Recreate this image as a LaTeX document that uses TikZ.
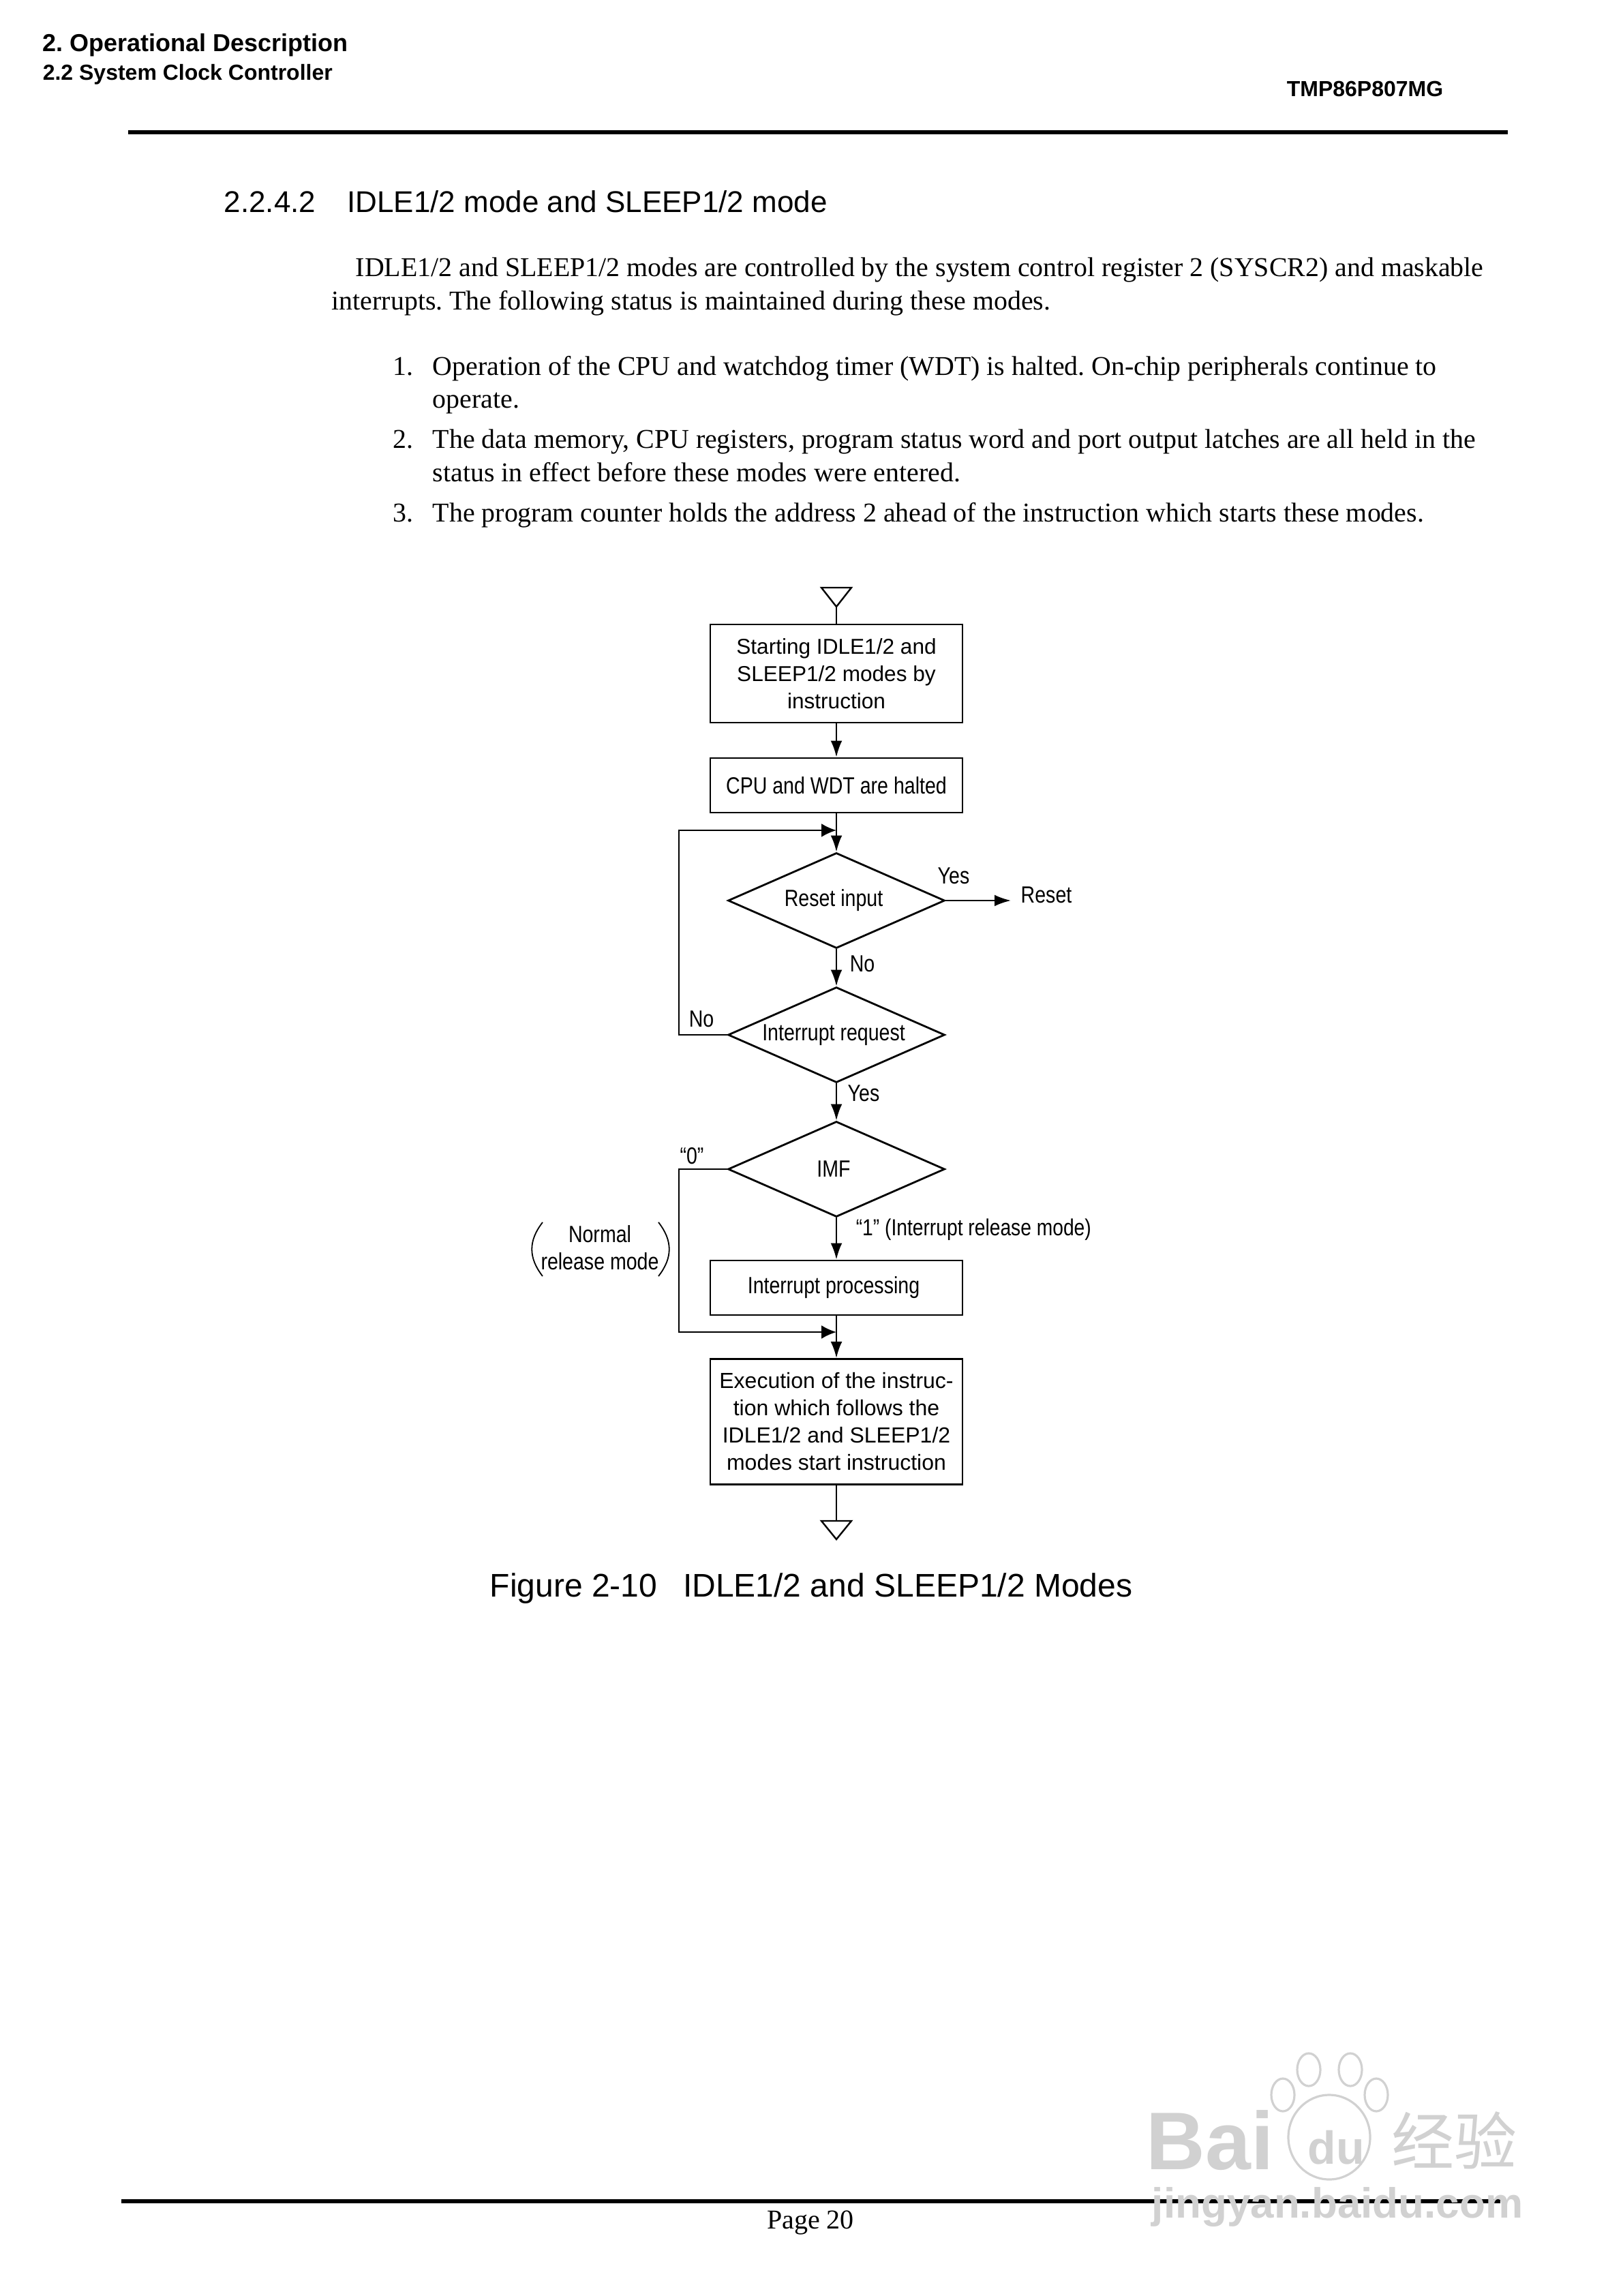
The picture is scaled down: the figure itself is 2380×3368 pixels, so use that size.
\documentclass[tikz,border=0pt]{standalone}
\usepackage{fontspec}
\setmainfont{Liberation Serif}
\setsansfont{Liberation Sans}
\newfontfamily\narrowfont[FakeStretch=0.83]{Liberation Sans}
\newfontfamily\cjkfont{Noto Sans CJK SC}
\usetikzlibrary{arrows.meta,shapes.geometric}
\tikzset{
  flowbox/.style={draw,line width=0.7pt,minimum width=92.5pt,inner sep=0pt,align=center,font=\sffamily\fontsize{7.9pt}{10pt}\selectfont},
  flownarrow/.style={font=\narrowfont\fontsize{8.6pt}{10pt}\selectfont},
  flowdec/.style={draw,diamond,aspect=2.27,line width=0.7pt,minimum width=79.5pt,minimum height=35pt,inner sep=0pt,flownarrow},
  flowtext/.style={inner sep=0pt,align=center,flownarrow},
  flowline/.style={line width=0.6pt},
  flowarrow/.style={line width=0.6pt,-{Latex[length=6pt,width=4.2pt]}},
  looparrow/.style={line width=0.65pt,-{Latex[length=5.5pt,width=5pt]}},
  bodyline/.style={anchor=base west,inner sep=0pt,font=\fontsize{9.97pt}{12pt}\selectfont},
  headtext/.style={anchor=west,inner sep=0pt,font=\sffamily\bfseries\fontsize{8pt}{9pt}\selectfont},
  markfill/.style={inner sep=0pt,text=black!18}
}
\begin{document}
\frenchspacing
\begin{tikzpicture}[x=0.25pt,y=-0.25pt]
  \useasboundingbox (0,0) rectangle (2380,3368);
  % page head
  \node[headtext,font=\sffamily\bfseries\fontsize{9pt}{11pt}\selectfont](headone)at(62,66){2. Operational Description};
  \node[headtext](headtwo)at(62,109){2.2 System Clock Controller};
  \node[headtext](headpart)at(1887,130){TMP86P807MG};
  \coordinate (ruleleft) at (188,194);
  \coordinate (ruleright) at (2212,194);
  \draw[line width=1.5pt] (ruleleft) -- (ruleright);
  \node[headtext,font=\sffamily\fontsize{11pt}{13pt}\selectfont](section)at(328,296){2.2.4.2\hspace{11.5pt}IDLE1/2 mode and SLEEP1/2 mode};
  % text
  \node[bodyline](paraone)at(521,406){IDLE1/2 and SLEEP1/2 modes are controlled by the system control register 2 (SYSCR2) and maskable};
  \node[bodyline](paratwo)at(486,455){interrupts. The following status is maintained during these modes.};
  \node[bodyline](numone)at(576,551){1.};
  \node[bodyline](itemone)at(634,551){Operation of the CPU and watchdog timer (WDT) is halted. On-chip peripherals continue to};
  \node[bodyline](itemonb)at(634,599){operate.};
  \node[bodyline](numtwo)at(576,658){2.};
  \node[bodyline](itemtwo)at(634,658){The data memory, CPU registers, program status word and port output latches are all held in the};
  \node[bodyline](itemtwb)at(634,707){status in effect before these modes were entered.};
  \node[bodyline](numthr)at(576,766){3.};
  \node[bodyline](itemthr)at(634,766){The program counter holds the address 2 ahead of the instruction which starts these modes.};
  % flow chart
  \coordinate (starttip) at (1227,890);
  \draw[flowline] (starttip) -- ++(-22,-28) -- ++(44,0) -- cycle;
  \node[flowbox,minimum height=36pt](starting)at(1227,988){Starting IDLE1/2 and\\SLEEP1/2 modes by\\instruction};
  \node[flowbox,minimum height=20pt,flownarrow](halted)at(1227,1152){CPU and WDT are halted};
  \coordinate (loopjoin) at (1227,1218);
  \coordinate (loopcorner) at (996,1218);
  \node[flowdec](resetin)at(1227,1321){Reset input\hspace*{2pt}};
  \node[flowdec](irq)at(1227,1518){Interrupt request\hspace*{2pt}};
  \node[flowdec](imf)at(1227,1715){IMF\hspace*{2pt}};
  \node[flowbox,minimum height=20pt,flownarrow](process)at(1227,1889){Interrupt processing\hspace*{2pt}};
  \coordinate (procjoin) at (1227,1954);
  \coordinate (imfcorner) at (996,1954);
  \node[flowbox,minimum height=46pt,font=\sffamily\fontsize{8pt}{10pt}\selectfont](resume)at(1227,2085.5){Execution of the instruc-\\tion which follows the\\IDLE1/2 and SLEEP1/2\\modes start instruction};
  \coordinate (endtop) at (1227,2231);
  \draw[flowline] (endtop) -- ++(-22,0) -- ++(22,27) -- ++(22,-27) -- cycle;
  \node[flowtext](resetout)at(1535,1313){Reset};
  \coordinate (resetend) at (1483,1321);
  \draw[flowline] (starttip) -- (starting);
  \draw[flowarrow] (starting) -- (halted);
  \draw[flowarrow] (halted) -- (resetin);
  \draw[flowarrow] (resetin) -- (irq);
  \draw[flowarrow] (irq) -- (imf);
  \draw[flowarrow] (imf) -- (process);
  \draw[flowarrow] (process) -- (resume);
  \draw[flowline] (resume) -- (endtop);
  \draw[flowarrow] (resetin.east) -- (resetend);
  \draw[looparrow] (irq.west) -| (loopcorner) -- (loopjoin);
  \draw[looparrow] (imf.west) -| (imfcorner) -- (procjoin);
  % labels
  \node[flowtext](yesone)at(1399,1285){Yes};
  \node[flowtext](noone)at(1265,1414){No};
  \node[flowtext](notwo)at(1029,1495){No};
  \node[flowtext](yestwo)at(1267,1604){Yes};
  \node[flowtext](zero)at(1015,1696){“0”};
  \node[flowtext,anchor=west,font=\narrowfont\fontsize{8.5pt}{10pt}\selectfont](one)at(1255,1804){“1” (Interrupt release mode)};
  \node[flowtext](normal)at(880,1830){Normal\\release mode};
  \draw[line width=0.45pt] (796,1793) .. controls (775,1820) and (775,1845) .. (796,1872);
  \draw[line width=0.45pt] (966,1793) .. controls (987,1820) and (987,1845) .. (966,1872);
  \node[inner sep=0pt,font=\sffamily\fontsize{12pt}{14pt}\selectfont](caption)at(1190,2330){Figure 2-10\hspace{9.5pt}IDLE1/2 and SLEEP1/2 Modes};
  % page foot
  \coordinate (footleft) at (178,3229);
  \coordinate (footright) at (2201,3229);
  \draw[line width=1.5pt] (footleft) -- (footright);
  \node[inner sep=0pt,font=\fontsize{10pt}{12pt}\selectfont](pageno)at(1189,3260){Page 20};
  % watermark
  \node[markfill,font=\sffamily\bfseries\fontsize{30pt}{32pt}\selectfont](bai)at(1775,3140){Bai};
  \node[markfill,font=\sffamily\bfseries\fontsize{17pt}{19pt}\selectfont](du)at(1960,3150){du};
  \node[markfill,font=\cjkfont\fontsize{23pt}{25pt}\selectfont](jingyan)at(2133,3140){经验};
  \node[markfill,font=\sffamily\bfseries\fontsize{15.5pt}{17pt}\selectfont](jysite)at(1962,3238){jingyan.baidu.com};
  \foreach \pawx/\pawy in {1882/3073,1920/3036,1981/3036,2019/3073}
    \draw[black!18,line width=0.8pt] (\pawx,\pawy) ellipse (17 and 24);
  \draw[black!18,line width=0.8pt] (1950,3135) ellipse (60 and 62);
\end{tikzpicture}
\end{document}
